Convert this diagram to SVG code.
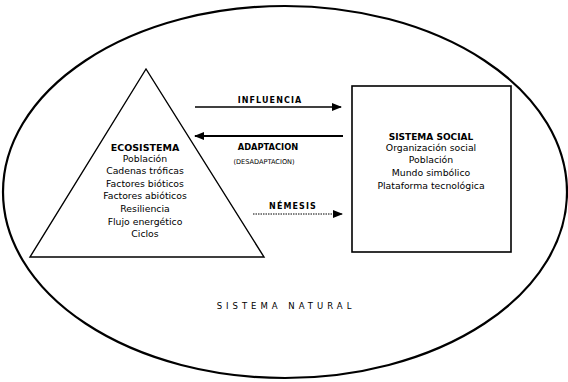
<svg xmlns="http://www.w3.org/2000/svg" width="568" height="382" viewBox="0 0 568 382">
<style>
.t{font-family:"DejaVu Sans",sans-serif;fill:#000;text-anchor:middle}
.b{font-weight:bold}
.r{font-size:9.3px}
.shape{fill:#fff;stroke:#000}
.link{stroke:#000;fill:none}
</style>
<defs>
<marker id="ah" viewBox="0 0 10 8" refX="9" refY="4" markerWidth="10" markerHeight="8" markerUnits="userSpaceOnUse" orient="auto">
<path d="M0,0 L10,4 L0,8 Z" fill="#000"/>
</marker>
</defs>
<rect width="568" height="382" fill="#fff"/>
<g id="sistema-natural">
<ellipse cx="285" cy="192" rx="282" ry="186" fill="none" stroke="#000" stroke-width="2.2"/>
<text class="t" x="286" y="309" font-size="8.5" letter-spacing="4">SISTEMA NATURAL</text>
</g>
<g id="ecosistema">
<polygon class="shape" points="146,69 30,257 264,257" stroke-width="1.4"/>
<text class="t b" x="145" y="151" font-size="9.5">ECOSISTEMA</text>
<text class="t r" x="145" y="162">Población</text>
<text class="t r" x="145" y="174">Cadenas tróficas</text>
<text class="t r" x="145" y="187">Factores bióticos</text>
<text class="t r" x="145" y="199">Factores abióticos</text>
<text class="t r" x="145" y="212">Resiliencia</text>
<text class="t r" x="145" y="225">Flujo energético</text>
<text class="t r" x="145" y="237">Ciclos</text>
</g>
<g id="sistema-social">
<rect class="shape" x="352" y="86" width="159" height="166" stroke-width="1.6"/>
<text class="t b" x="431" y="140" font-size="9">SISTEMA SOCIAL</text>
<text class="t r" x="431" y="151">Organización social</text>
<text class="t r" x="431" y="163">Población</text>
<text class="t r" x="431" y="176">Mundo simbólico</text>
<text class="t r" x="431" y="189">Plataforma tecnológica</text>
</g>
<g id="connectors">
<line class="link" x1="195" y1="107" x2="341" y2="107" stroke-width="1.5" marker-end="url(#ah)"/>
<line class="link" x1="343" y1="136" x2="195" y2="136" stroke-width="1.8" marker-end="url(#ah)"/>
<line class="link" x1="253" y1="214" x2="342" y2="214" stroke-width="1" stroke-dasharray="1.5,1" marker-end="url(#ah)"/>
<text class="t b" x="270" y="103" font-size="8" letter-spacing="1.1">INFLUENCIA</text>
<text class="t b" x="268" y="150" font-size="8.3">ADAPTACION</text>
<text class="t" x="264" y="164" font-size="6.6">(DESADAPTACION)</text>
<text class="t b" x="293" y="209" font-size="8" letter-spacing="1.1">NÉMESIS</text>
</g>
</svg>
